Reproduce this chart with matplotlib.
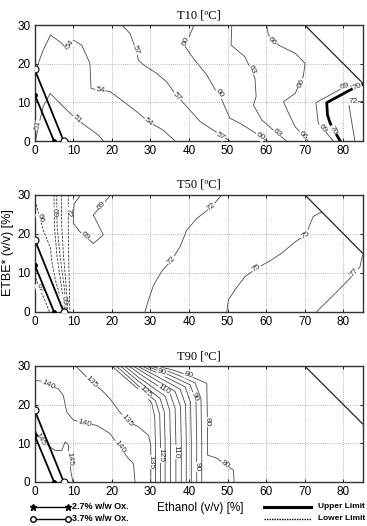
import numpy as np
import matplotlib
matplotlib.use("Agg")
import matplotlib.pyplot as plt
from matplotlib.lines import Line2D

plt.rcParams['font.family'] = ['Liberation Sans', 'DejaVu Sans']

#################### DATA ####################
# common lines: domain limit and the two oxygen-content lines
limit_x = [70, 85]
limit_y = [30, 15]
ox27_x = [0, 5.0]
ox27_y = [12.0, 0]
ox37_x = [0, 7.5]
ox37_y = [18.5, 0]

# T10 contours
t10_levels = [51, 54, 57, 60, 63, 66, 69, 72]
t10_xs = [
    [0.3, 1.0, 2.2, 4.0, 6.1, 8.3, 10.9, 13.5, 16.5, 17.8],
    [0.3, 0.6, 2.2, 4.1, 7.0, 8.3, 9.2, 10.0, 12.2, 14.3, 14.6, 16.0, 19.5, 22.5, 26.4, 29.5, 33.3, 36.4],
    [22.6, 24.7, 26.3, 26.9, 28.2, 31.6, 34.2, 36.0, 39.4, 42.9, 46.3, 50.6],
    [41.3, 39.0, 41.1, 44.6, 46.3, 48.5, 50.6, 53.2, 56.7, 60.2],
    [51.1, 50.9, 54.5, 57.1, 57.4, 56.7, 58.9, 62.8, 65.3],
    [60.1, 60.6, 63.2, 67.5, 70.1, 69.6, 67.5, 64.5, 65.8, 67.5, 70.9],
    [85.0, 79.6, 72.9, 73.5, 77.4],
    [85.0, 81.3, 83.0],
]
t10_ys = [
    [0.5, 4.0, 8.9, 12.3, 10.2, 8.0, 5.6, 3.7, 1.55, 0],
    [17.5, 19.2, 23.5, 27.4, 25.3, 23.7, 24.9, 26.1, 24.8, 20.1, 13.6, 13.3, 12.8, 10.6, 7.6, 5.0, 2.8, 0],
    [30, 27.8, 23.5, 20.9, 19.7, 17.5, 15.3, 12.8, 8.9, 5.0, 2.8, 0],
    [30, 24.4, 21.4, 17.1, 14.1, 10.6, 5.9, 4.6, 2.4, 0],
    [30, 24.8, 21.8, 16.2, 11.5, 9.3, 5.4, 2.0, 0],
    [30, 27.4, 24.8, 22.7, 20.1, 16.6, 12.3, 10.2, 7.2, 3.7, 0],
    [15.1, 13.6, 9.9, 4.6, 0],
    [10.2, 10.2, 0],
]
t10_upper_x = [85.0, 82.5, 75.7, 75.9, 76.6, 78.3, 79.2]
t10_upper_y = [14.6, 13.6, 9.9, 6.7, 4.6, 1.55, 0]
t10_lab_txt = ['51', '51', '54', '54', '54', '57', '57', '57', '60', '60', '60',
               '63', '63', '66', '66', '66', '69', '69', '70', '70', '72']
t10_lab_x = [1.0, 10.9, 9.2, 17.0, 29.5, 26.3, 36.8, 48.1, 39.3, 48.0, 58.4,
             56.3, 62.8, 61.6, 69.2, 69.6, 80.4, 74.6, 83.6, 77.3, 82.6]
t10_lab_y = [4.0, 5.6, 24.9, 13.2, 5.0, 23.5, 11.5, 1.3, 25.8, 12.3, 1.1,
             18.4, 2.0, 25.9, 14.9, 1.55, 14.2, 3.3, 14.0, 2.8, 10.2]

# T50 contours
t50_levels = [69, 72, 75, 77]
t50_xs = [
    [11.9, 10.2, 10.0, 11.7, 15.2, 17.8, 15.2, 19.8],
    [28.6, 29.5, 30.8, 32.9, 35.5, 37.7, 39.4, 42.0, 43.7, 45.9, 48.5],
    [49.8, 50.2, 51.9, 54.5, 57.5, 61.4, 64.0, 67.5, 70.2, 72.2, 74.0, 74.7],
    [73.1, 77.9, 81.3, 84.3, 85.0],
]
t50_ys = [
    [30, 27.6, 22.7, 20.5, 17.5, 19.7, 24.8, 30],
    [0, 3.0, 6.8, 10.3, 13.2, 16.7, 20.9, 23.9, 25.2, 26.9, 30],
    [0, 3.0, 5.6, 9.0, 11.1, 13.3, 15.0, 17.9, 19.6, 24.4, 25.4, 25.3],
    [0, 4.7, 8.1, 11.5, 14.5],
]
t50_lower_levels = [66, 67, 69, 70, 71, 72]
t50_lower_xs = [
    [0.4, 2.2, 4.1, 4.4, 5.4, 6.8, 7.4],
    [0, 1.2, 2.6, 3.8],
    [5.0, 5.1, 5.8, 7.0, 7.8],
    [5.7, 5.8, 6.6, 7.7, 8.2],
    [6.9, 7.0, 7.5, 8.2, 8.6],
    [8.7, 8.7, 8.8, 9.0, 9.1],
]
t50_lower_ys = [
    [27.5, 21.0, 16.3, 13.0, 8.0, 3.0, 0],
    [9.5, 6.0, 3.0, 0],
    [30, 22, 14, 6, 0],
    [30, 22, 14, 6, 0],
    [30, 22, 14, 6, 0],
    [30, 22, 14, 6, 0],
]
t50_lab_txt = ['69', '69', '72', '72', '75', '75', '77', '66', '67', '69', '72', '69']
t50_lab_x = [17.4, 13.0, 35.5, 45.9, 57.5, 70.2, 83.0, 1.37, 1.2, 5.05, 8.7, 7.4]
t50_lab_y = [27.3, 19.4, 13.2, 26.9, 11.1, 19.6, 10.0, 24.0, 6.0, 25.5, 25.5, 3.0]

# T90 contours
t90_levels = [145, 140, 135, 130, 125, 120, 115, 110, 105, 100, 95, 90, 85, 80]
t90_xs = [
    [0, 1.5, 4.0, 5.3, 7.0, 7.9, 8.7, 8.8, 9.4, 9.9],
    [0, 2.0, 5.0, 6.1, 7.4, 8.3, 10.0, 13.0, 16.1, 19.5, 22.0, 24.3, 25.6, 26.0],
    [10.6, 14.8, 17.4, 19.5, 21.7, 23.8, 26.9, 29.5, 30.1, 30.1],
    [20.0, 24.0, 28.0, 30.3, 31.1, 31.3, 31.3],
    [21.1, 25.0, 28.6, 31.3, 32.4, 32.6, 32.6],
    [22.2, 26.0, 29.8, 32.5, 33.6, 33.8, 33.8],
    [23.3, 27.0, 31.0, 33.8, 35.0, 35.2, 35.2],
    [24.4, 28.2, 32.2, 35.1, 36.4, 36.6, 36.6],
    [25.5, 29.4, 33.4, 36.4, 37.8, 38.0, 38.0],
    [26.6, 30.6, 34.6, 37.7, 39.1, 39.3, 39.3],
    [27.7, 31.8, 35.8, 39.0, 40.4, 40.6, 40.6],
    [28.8, 33.0, 37.0, 40.3, 41.8, 42.0, 42.0],
    [29.9, 34.2, 38.2, 41.6, 43.1, 43.3, 43.3],
    [31.0, 35.4, 39.8, 44.6, 44.8, 44.8, 47.2, 51.5, 51.7],
]
t90_ys = [
    [13.5, 11.0, 9.0, 8.1, 8.1, 10.3, 9.6, 8.0, 2.5, 0],
    [26.3, 26.0, 24.5, 24.1, 22.4, 18.1, 16.0, 15.2, 14.6, 12.5, 9.1, 6.0, 4.7, 0],
    [30, 25.8, 23.7, 21.5, 18.5, 15.9, 14.2, 12.0, 9.4, 0],
    [30, 26.5, 23.0, 20.5, 17.0, 10.0, 0],
    [30, 26.6, 23.2, 21.0, 17.5, 10.0, 0],
    [30, 26.8, 23.7, 21.6, 18.0, 10.0, 0],
    [30, 27.0, 24.2, 22.2, 18.5, 10.0, 0],
    [30, 27.3, 24.7, 22.8, 19.0, 10.0, 0],
    [30, 27.6, 25.2, 23.4, 19.5, 10.0, 0],
    [30, 27.9, 25.7, 24.0, 20.0, 10.0, 0],
    [30, 28.2, 26.2, 24.6, 20.5, 10.0, 0],
    [30, 28.5, 26.7, 25.1, 21.0, 10.0, 0],
    [30, 28.8, 27.2, 25.6, 21.5, 10.0, 0],
    [30, 29.1, 27.6, 25.5, 15.0, 6.9, 6.1, 3.0, 0],
]
t90_lab_txt = ['140', '140', '140', '145', '145', '135', '135', '135', '125', '125',
               '110', '110', '90', '90', '90', '80', '80', '80']
t90_lab_x = [3.5, 13.0, 22.0, 1.5, 9.0, 14.8, 23.8, 30.1, 28.6, 32.6,
             33.6, 36.6, 33.0, 41.4, 42.0, 39.8, 44.8, 49.4]
t90_lab_y = [25.2, 15.2, 9.1, 11.0, 6.0, 25.8, 15.9, 5.1, 23.2, 6.8,
             23.8, 7.7, 28.5, 22.0, 3.8, 27.6, 15.5, 4.5]

xticks = [0, 10, 20, 30, 40, 50, 60, 70, 80]
yticks = [0, 10, 20, 30]

#################### FIGURE ####################
W, H = 367.0, 526.0
fig = plt.figure(figsize=(3.67, 5.26), dpi=100)
line_col = '#4a4a4a'


def make_axes(top_px, bot_px, title):
    ax = fig.add_axes([34.7 / W, 1 - bot_px / H, (362.6 - 34.7) / W, (bot_px - top_px) / H])
    ax.set_xlim(0, 85)
    ax.set_ylim(0, 30)
    ax.set_xticks(xticks)
    ax.set_yticks(yticks)
    ax.tick_params(direction='in', length=2.5, width=0.6, labelsize=8.5, top=True, right=True, pad=3)
    ax.grid(True, ls=(0, (1, 1.5)), color='#a0a0a0', lw=0.6)
    for s in ax.spines.values():
        s.set_linewidth(1.0)
        s.set_color('#333333')
    ax.set_title(title, family='Liberation Serif', fontsize=9, pad=5)
    # domain limit and oxygen lines
    ax.plot(limit_x, limit_y, color='#222222', lw=0.9)
    ax.plot(ox27_x, ox27_y, color='black', lw=1.3, marker='o', ms=2.5, mfc='black', zorder=5)
    ax.plot(ox37_x, ox37_y, color='black', lw=1.3, marker='o', ms=5, mfc='white', mew=0.8, zorder=5)
    return ax


def draw_lines(ax, levels, xs, ys, **kw):
    out = []
    for lev, x, y in zip(levels, xs, ys):
        ax.plot(x, y, **kw)
        out.append((lev, x, y))
    return out


def put_labels(ax, lines, txts, lxs, lys):
    for txt, lx, ly in zip(txts, lxs, lys):
        p = ax.transData.transform((lx, ly))
        best = None
        for lev, x, y in lines:
            if str(lev) != txt:
                continue
            pts = ax.transData.transform(np.column_stack([x, y]))
            for a, b in zip(pts[:-1], pts[1:]):
                ab = b - a
                t = np.clip(np.dot(p - a, ab) / max(np.dot(ab, ab), 1e-9), 0, 1)
                d = np.hypot(*(a + t * ab - p))
                if best is None or d < best[0]:
                    best = (d, a, b)
        ang = 0.0
        if best is not None:
            a, b = best[1], best[2]
            ang = np.degrees(np.arctan2(b[1] - a[1], b[0] - a[0]))
            if ang > 90:
                ang -= 180
            if ang < -90:
                ang += 180
        ax.text(lx, ly, txt, rotation=ang, rotation_mode='anchor', ha='center', va='center',
                fontsize=6, color='#333333', zorder=4,
                bbox=dict(fc='white', ec='none', pad=0.2))


# T10
ax1 = make_axes(25, 141, 'T10 [ºC]')
l1 = draw_lines(ax1, t10_levels, t10_xs, t10_ys, color=line_col, lw=0.6)
ax1.plot(t10_upper_x, t10_upper_y, color='black', lw=2.0)
l1.append((70, t10_upper_x, t10_upper_y))
put_labels(ax1, l1, t10_lab_txt, t10_lab_x, t10_lab_y)

# T50
ax2 = make_axes(194.7, 311.7, 'T50 [ºC]')
l2 = draw_lines(ax2, t50_levels, t50_xs, t50_ys, color=line_col, lw=0.6)
l2 += draw_lines(ax2, t50_lower_levels, t50_lower_xs, t50_lower_ys,
                 color='#333333', lw=0.6, ls=(0, (3, 1.5)))
put_labels(ax2, l2, t50_lab_txt, t50_lab_x, t50_lab_y)

# T90
ax3 = make_axes(366, 481.7, 'T90 [ºC]')
l3 = draw_lines(ax3, t90_levels, t90_xs, t90_ys, color=line_col, lw=0.6)
put_labels(ax3, l3, t90_lab_txt, t90_lab_x, t90_lab_y)

# axis labels
fig.text(8 / W, 1 - 253 / H, 'ETBE* (v/v) [%]', rotation=90, ha='center', va='center', fontsize=9)
fig.text(200 / W, 1 - 508 / H, 'Ethanol (v/v) [%]', ha='center', va='center', fontsize=8.5)

# legend drawn below the last plot
y1, y2 = 1 - 506.7 / H, 1 - 518.7 / H
fig.add_artist(Line2D([33 / W, 68 / W], [y1, y1], color='black', lw=1.0, marker='*', ms=5,
                      transform=fig.transFigure))
fig.add_artist(Line2D([33 / W, 68 / W], [y2, y2], color='black', lw=1.0, marker='o', ms=4,
                      mfc='white', transform=fig.transFigure))
fig.text(72 / W, y1, '2.7% w/w Ox.', fontsize=6.5, weight='bold', va='center')
fig.text(72 / W, y2, '3.7% w/w Ox.', fontsize=6.5, weight='bold', va='center')
fig.add_artist(Line2D([264 / W, 311 / W], [y1, y1], color='black', lw=2.2, transform=fig.transFigure))
fig.add_artist(Line2D([264 / W, 311 / W], [y2, y2], color='black', lw=1.0, ls=(0, (1, 0.8)),
                      transform=fig.transFigure))
fig.text(365 / W, y1, 'Upper Limit', fontsize=6, weight='bold', va='center', ha='right')
fig.text(365 / W, y2, 'Lower Limit', fontsize=6, weight='bold', va='center', ha='right')

fig.savefig('out.png', dpi=100)
